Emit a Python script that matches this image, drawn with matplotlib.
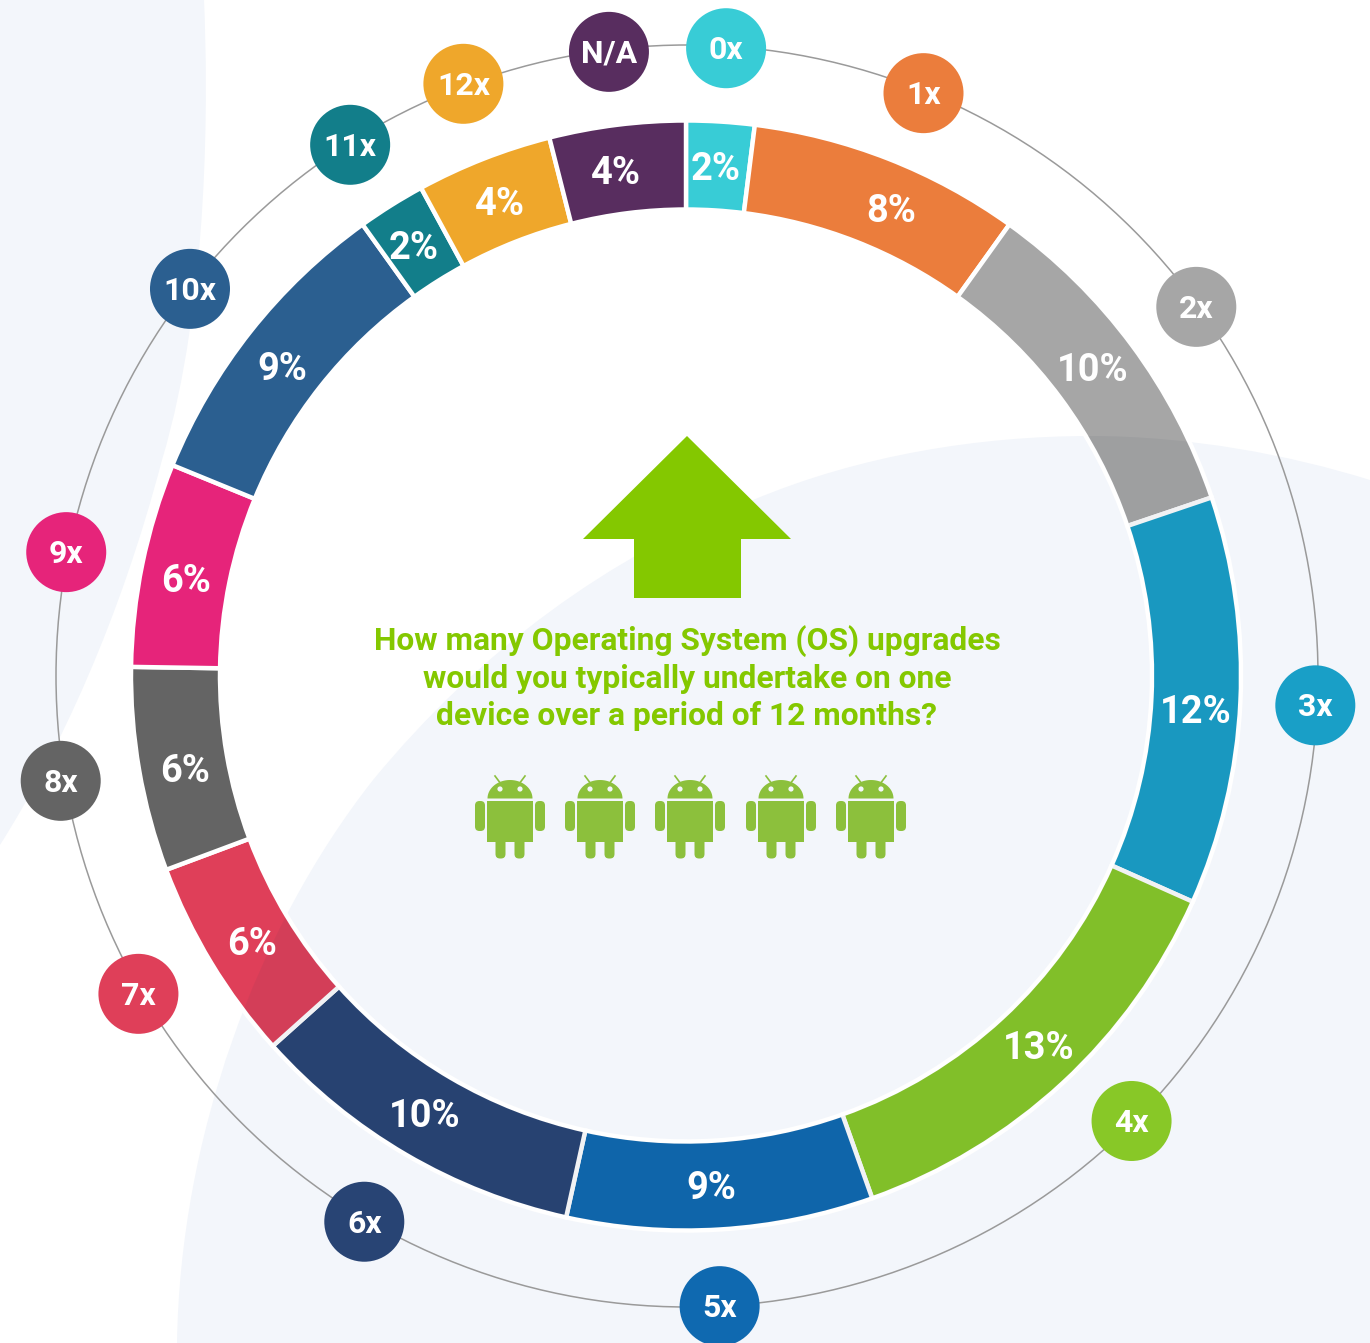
import numpy as np
import matplotlib
matplotlib.use('Agg')
import matplotlib.pyplot as plt
from matplotlib.patches import Circle, PathPatch, Polygon, Wedge, FancyBboxPatch, Rectangle
from matplotlib.path import Path

# data
upgrades = ['0x', '1x', '2x', '3x', '4x', '5x', '6x', '7x', '8x', '9x', '10x', '11x', '12x', 'N/A']
shares = [2, 8, 10, 12, 13, 9, 10, 6, 6, 6, 9, 2, 4, 4]
colors = ['#38CCD6', '#EB7D3C', '#A6A6A6', '#199FC7', '#88C827', '#0F69B0', '#284474',
          '#DF3F59', '#646464', '#E6247A', '#2B5F90', '#127E8A', '#EFA72B', '#582D5F']
question = 'How many Operating System (OS) upgrades\nwould you typically undertake on one\ndevice over a period of 12 months?'
android_x = [510, 600, 690, 781, 871]

# small hand placement of labels, degrees away from the middle of the slice
pct_nudge = [-0.3, 2.2, -0.7, 1.1, -0.8, 0.8, 0.7, -0.2, -0.6, -0.6, -0.9, -0.3, -0.1, -0.9]
bubble_nudge = [0, 0.7, 0.6, 0, -2.2, 0.6, 0.3, 1.1, 0.3, -0.3, -0.4, -0.3, 0.7, 0]
# and pixels outwards for the bubbles
bubble_push = [0, 0, 0, 0, 0, 2, 5, 5, 6, 4, 1, 0, 4, 0]

W, H = 1370, 1343
cx, cy = 687, 676
R_outer, R_ring, R_text, R_bubble = 555, 631, 510, 629
GREEN = '#84C800'
ANDROID = '#8CC03C'
BG = '#F3F6FB'
plt.rcParams['font.family'] = ['Roboto', 'DejaVu Sans']

fig = plt.figure(figsize=(W / 100, H / 100), dpi=100)
ax = fig.add_axes([0, 0, 1, 1])

# y axis points down, so angles grow clockwise on screen and -90 is the top
wedges, _ = ax.pie(shares, colors=colors, startangle=-90, counterclock=True, radius=R_outer,
                   center=(cx - 1, cy - 0.5), wedgeprops=dict(width=89, edgecolor='white', linewidth=3.2, zorder=3))
ax.set_xlim(0, W)
ax.set_ylim(H, 0)
ax.set_aspect('equal')
ax.axis('off')

# pale background shapes
left_blob = Path([(0, 0), (204, 0), (208, 90), (210, 300), (162, 460), (120, 620), (60, 750), (0, 845), (0, 0)],
                 [Path.MOVETO, Path.LINETO, Path.CURVE4, Path.CURVE4, Path.CURVE4,
                  Path.CURVE4, Path.CURVE4, Path.CURVE4, Path.CLOSEPOLY])
big_blob = Path([(177, 1343), (180, 1140), (255, 930), (373, 780), (480, 650), (610, 555), (753, 500),
                 (860, 455), (980, 436), (1090, 436), (1190, 436), (1290, 455), (1370, 480),
                 (1370, 1343), (177, 1343)],
                [Path.MOVETO] + [Path.CURVE4] * 12 + [Path.LINETO, Path.CLOSEPOLY])
ax.add_patch(PathPatch(left_blob, fc=BG, ec='none', zorder=0))
ax.add_patch(PathPatch(big_blob, fc=BG, ec='none', zorder=0))

# the ring is slightly darker where it sits on the big shape
ring_clip = Wedge((cx - 1, cy - 0.5), R_outer - 2, 0, 360, width=85, transform=ax.transData)
shade = PathPatch(big_blob, fc='#203050', ec='none', alpha=0.06, zorder=4)
ax.add_patch(shade)
shade.set_clip_path(ring_clip)

ax.add_patch(Circle((cx, cy), R_ring, fill=False, ec='#9A9A9A', lw=1.1, zorder=1))

ends = np.cumsum(shares) / np.sum(shares) * 360
mids = ends - np.array(shares) / np.sum(shares) * 180
for i, (name, val, col, mid) in enumerate(zip(upgrades, shares, colors, mids)):
    a = np.radians(mid + pct_nudge[i] - 90)
    ax.text(cx + R_text * np.cos(a), cy + R_text * np.sin(a) + 3, f'{val}%', color='white', fontsize=27.4,
            fontweight='bold', ha='center', va='center', zorder=6)
    b = np.radians(mid + bubble_nudge[i] - 90)
    r = R_bubble + bubble_push[i]
    bx, by = cx + r * np.cos(b), cy + r * np.sin(b)
    ax.add_patch(Circle((bx, by), 40, fc=col, ec='none', zorder=5))
    ax.text(bx, by + 2, name, color='white', fontsize=23, fontweight='bold', ha='center', va='center', zorder=6)

# arrow
ax.add_patch(Polygon([(687, 436), (791, 539), (741, 539), (741, 598), (634, 598), (634, 539), (583, 539)],
                     closed=True, fc=GREEN, ec='none', zorder=2))

ax.text(687, 678, question, color=GREEN, fontsize=22.9, fontweight='bold', ha='center', va='center',
        linespacing=1.29, zorder=2)


def draw_android(x):
    # head is a flattened half circle, with a thin gap above the body
    t = np.linspace(0, np.pi, 40)
    ax.add_patch(Polygon(np.column_stack([x + 22.5 * np.cos(t), 798.5 - 18.5 * np.sin(t)]),
                         closed=True, fc=ANDROID, ec='none', zorder=2))
    for s in (-1, 1):
        ax.add_patch(Circle((x + s * 10, 789), 2.6, fc=BG, ec='none', zorder=3))
        ax.plot([x + s * 10.5, x + s * 15], [782, 776], color=ANDROID, lw=1.2, zorder=2)
        # arm
        ax.add_patch(FancyBboxPatch((x + s * 30 - 1.5, 804.5), 3, 23, boxstyle='round,pad=3.5,rounding_size=4.5',
                                    fc=ANDROID, ec='none', zorder=2))
        # leg
        ax.add_patch(FancyBboxPatch((x + s * 9.5 - 1.5, 835), 3, 20, boxstyle='round,pad=3.5,rounding_size=4.5',
                                    fc=ANDROID, ec='none', zorder=2))
    ax.add_patch(Rectangle((x - 23, 801), 46, 41, fc=ANDROID, ec='none', zorder=2))


for x in android_x:
    draw_android(x)

fig.savefig('out.png', dpi=100)
